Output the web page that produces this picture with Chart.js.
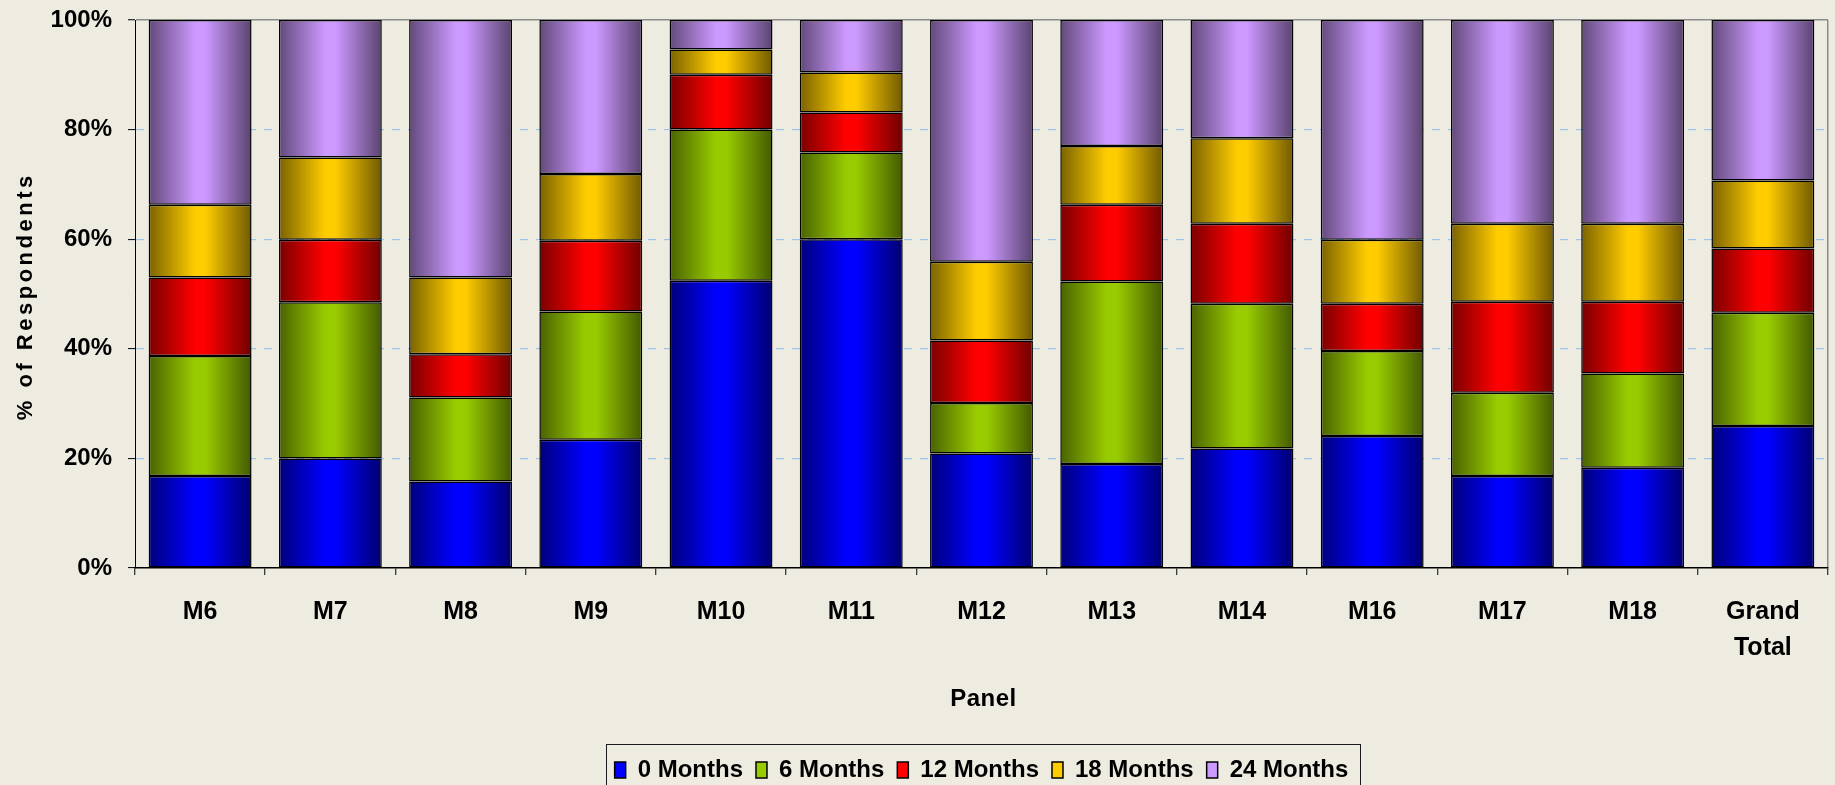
<!DOCTYPE html>
<html>
<head>
<meta charset="utf-8">
<script src="https://cdn.jsdelivr.net/npm/chart.js@4.4.1/dist/chart.umd.min.js"></script>
<style>
  html, body { margin: 0; padding: 0; background: #EEECE1; }
  #wrap { width: 1835px; height: 785px; }
</style>
</head>
<body>
<div id="wrap"><canvas id="panel-chart" width="1835" height="785"></canvas></div>
<script>
// panels on the x axis
const panels = ['M6', 'M7', 'M8', 'M9', 'M10', 'M11', 'M12', 'M13', 'M14', 'M16', 'M17', 'M18', ['Grand', 'Total']];

// share of respondents (%) per panel, one array per series
const months0  = [16.8, 20.0, 15.8, 23.4, 52.4, 60.0, 20.9, 19.0, 21.8, 24.1, 16.8, 18.3, 25.9];
const months6  = [21.9, 28.5, 15.3, 23.4, 27.6, 15.8,  9.2, 33.3, 26.4, 15.5, 15.2, 17.2, 20.7];
const months12 = [14.3, 11.4,  7.9, 12.9, 10.0,  7.3, 11.4, 14.0, 14.6,  8.6, 16.6, 13.1, 11.7];
const months18 = [13.3, 15.0, 14.0, 12.2,  4.6,  7.3, 14.4, 10.7, 15.6, 11.7, 14.2, 14.2, 12.4];
const months24 = [33.7, 25.1, 47.0, 28.1,  5.4,  9.6, 44.1, 23.0, 21.6, 40.1, 37.2, 37.2, 29.3];

const seriesNames = ['0 Months', '6 Months', '12 Months', '18 Months', '24 Months'];
const seriesColors = ['#0000FF', '#99CC00', '#FF0000', '#FFCC00', '#CC99FF'];

const yTickStep = 20;
const yMax = 100;

const BAR_PCT = 0.79;
const GRID_BLUE = '#99C6F0';
const FRAME_GRAY = '#8A8A8A';
const PLOT_BOTTOM = 568;
const LEGEND_MID = 770;
const SANS = "'Liberation Sans', Arial, sans-serif";

Chart.defaults.font.family = SANS;
Chart.defaults.color = '#000';

function shade(hex, f) {
  const n = parseInt(hex.slice(1), 16);
  const r = Math.round(((n >> 16) & 255) * f);
  const g = Math.round(((n >> 8) & 255) * f);
  const b = Math.round((n & 255) * f);
  return 'rgb(' + r + ',' + g + ',' + b + ')';
}

// cylinder-like shading across each bar: dark edges, bright just left of centre
function barFill(base) {
  return (c) => {
    const chart = c.chart;
    const xs = chart.scales && chart.scales.x;
    if (!chart.chartArea || !xs || c.dataIndex === undefined) return base;
    const cx = xs.getPixelForValue(c.dataIndex);
    const half = xs.width / panels.length * BAR_PCT / 2;
    const g = chart.ctx.createLinearGradient(cx - half, 0, cx + half, 0);
    g.addColorStop(0, shade(base, 0.48));
    g.addColorStop(0.45, base);
    g.addColorStop(0.55, base);
    g.addColorStop(1, shade(base, 0.44));
    return g;
  };
}

const seriesData = [months0, months6, months12, months18, months24];

const panelFrame = {
  id: 'panelFrame',
  afterLayout(chart) {
    const lg = chart.legend;
    const area = chart.chartArea;
    const dx = (area.left + area.right) / 2 - (lg.left + lg.right) / 2;
    lg.left += dx;
    lg.right += dx;
    const pad = lg.options.labels.padding;
    const dy = LEGEND_MID - pad - 12 - lg.top;
    lg.top += dy;
    lg.bottom += dy;
  },
  afterDraw(chart) {
    const ctx = chart.ctx;
    const area = chart.chartArea;
    const lg = chart.legend;

    // frame round the legend row
    const pad = lg.options.labels.padding;
    const rowW = lg.lineWidths[0];
    const start = (lg.left + pad + lg.right - rowW) / 2;
    const end = start + rowW - pad;
    ctx.save();
    ctx.strokeStyle = '#1a1a1a';
    ctx.lineWidth = 1;
    ctx.strokeRect(Math.round(start - 9) + 0.5, 744.5, Math.round(end - start + 20), 44);
    ctx.restore();

    // axis titles
    ctx.save();
    ctx.fillStyle = '#000';
    ctx.textAlign = 'center';
    ctx.textBaseline = 'middle';
    ctx.font = 'bold 22px ' + SANS;
    ctx.letterSpacing = '3.5px';
    ctx.translate(26, (area.top + area.bottom) / 2 + 4);
    ctx.rotate(-Math.PI / 2);
    ctx.fillText('% of Respondents', 1.75, 0);
    ctx.restore();

    ctx.save();
    ctx.fillStyle = '#000';
    ctx.textAlign = 'center';
    ctx.textBaseline = 'middle';
    ctx.font = 'bold 24px ' + SANS;
    ctx.letterSpacing = '0.5px';
    ctx.fillText('Panel', (area.left + area.right) / 2 + 2, 699);
    ctx.restore();
  }
};

const ctx = document.getElementById('panel-chart').getContext('2d');

new Chart(ctx, {
  type: 'bar',
  data: {
    labels: panels,
    datasets: seriesData.map((values, i) => ({
      label: seriesNames[i],
      data: values,
      backgroundColor: barFill(seriesColors[i]),
      borderColor: '#000',
      borderWidth: 1.5,
      borderSkipped: false,
      categoryPercentage: BAR_PCT,
      barPercentage: 1
    }))
  },
  options: {
    responsive: false,
    animation: false,
    devicePixelRatio: 1,
    layout: { padding: { top: 20, right: 7, left: 0, bottom: 0 } },
    plugins: {
      tooltip: { enabled: false },
      legend: {
        position: 'bottom',
        labels: {
          padding: 13,
          boxWidth: 11,
          boxHeight: 16,
          color: '#000',
          font: { family: SANS, size: 24, weight: 'bold' },
          generateLabels: (chart) => chart.data.datasets.map((ds, i) => ({
            text: ds.label,
            fillStyle: seriesColors[i],
            strokeStyle: '#000',
            lineWidth: 1.5,
            fontColor: '#000',
            hidden: !chart.isDatasetVisible(i),
            datasetIndex: i
          }))
        }
      }
    },
    scales: {
      x: {
        stacked: true,
        afterFit: (scale) => {
          scale.height = scale.chart.height - PLOT_BOTTOM - scale.chart.legend.height;
        },
        grid: {
          offset: true,
          drawOnChartArea: true,
          color: (c) => c.tick ? 'rgba(0,0,0,0)' : FRAME_GRAY,
          lineWidth: 1.5,
          tickColor: '#000',
          tickWidth: 1,
          tickLength: 7
        },
        border: { color: '#000', width: 1.5 },
        ticks: {
          padding: 19,
          maxRotation: 0,
          autoSkip: false,
          color: '#000',
          font: { family: SANS, size: 25, weight: 'bold', lineHeight: 1.44 }
        }
      },
      y: {
        stacked: true,
        min: 0,
        max: yMax,
        afterFit: (scale) => {
          scale.width = 135;
          // the end labels may overhang the plot; keep the plot edge where the layout padding puts it
          scale.paddingTop = 0;
          scale.paddingBottom = 0;
        },
        grid: {
          color: (c) => {
            if (!c.tick) return '#000';
            if (c.tick.value === yMax) return FRAME_GRAY;
            if (c.tick.value === 0) return 'rgba(0,0,0,0)';
            return GRID_BLUE;
          },
          lineWidth: (c) => c.tick && c.tick.value === yMax ? 1.5 : 1.2,
          tickColor: '#000',
          tickWidth: 1,
          tickLength: 7
        },
        border: {
          color: '#000',
          width: 1,
          dash: (c) => (c.tick && c.tick.value > 0 && c.tick.value < yMax) ? [8, 8] : []
        },
        ticks: {
          stepSize: yTickStep,
          padding: 16,
          color: '#000',
          font: { family: SANS, size: 24, weight: 'bold' },
          callback: (v) => v + '%'
        }
      }
    }
  },
  plugins: [panelFrame]
});
</script>
</body>
</html>
